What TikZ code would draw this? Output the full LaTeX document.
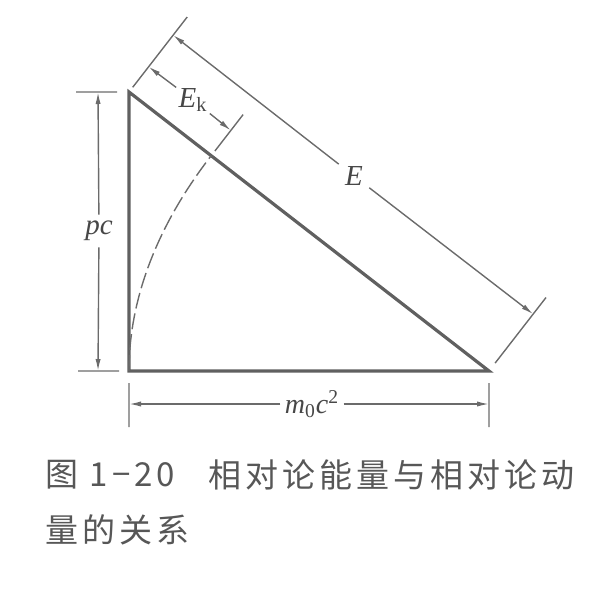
\documentclass[tikz,border=0pt]{standalone}
\usepackage{fontspec}
\usetikzlibrary{arrows.meta}
\setmainfont{Liberation Serif}
\newfontfamily\cjkfont{Noto Sans CJK SC}
\definecolor{figgray}{gray}{0.42}
\definecolor{labgray}{gray}{0.28}
\definecolor{capgray}{gray}{0.34}

\begin{document}
\begin{tikzpicture}[x=0.5pt,y=-0.5pt,>={Latex[length=6pt,width=2.6pt]},
                    thin line/.style={draw=figgray,line width=0.7pt},
                    dim line/.style={thin line,->},
                    side/.style={draw=figgray!90!black,line width=1.6pt,line join=miter},
                    dim label/.style={inner sep=3pt,text=labgray,font=\fontsize{14.5}{17}\selectfont},
                    caption/.style={anchor=west,inner sep=0pt,text=capgray,
                      font=\fontsize{16.5}{20}\cjkfont\addfontfeature{LetterSpace=12}}]
  \useasboundingbox (0,0) rectangle (615,601);
  % triangle
  \coordinate (A) at (129,92);
  \coordinate (B) at (129,371);
  \coordinate (C) at (489,371);
  \coordinate (P) at (211.2,155.7);
  \draw[side] (A) -- (B) -- (C) -- cycle;
  \draw[thin line,dash pattern=on 8pt off 2.5pt] (B) .. controls (129,292) and (162.8,218.1) .. (P);

  % extension lines
  \coordinate (Ea1) at (132.7,87.3);  \coordinate (Ea2) at (187.2,17);
  \coordinate (Eb1) at (495.1,363.1); \coordinate (Eb2) at (546,297.5);
  \coordinate (Ek1) at (214.9,151);   \coordinate (Ek2) at (243.1,114.6);
  \coordinate (pa1) at (76,92);  \coordinate (pa2) at (117,92);
  \coordinate (pb1) at (78,371); \coordinate (pb2) at (119,371);
  \coordinate (ma1) at (129,383); \coordinate (ma2) at (129,427);
  \coordinate (mb1) at (489,383); \coordinate (mb2) at (489,427);
  \draw[thin line] (Ea1) -- (Ea2) (Eb1) -- (Eb2) (Ek1) -- (Ek2)
                   (pa1) -- (pa2) (pb1) -- (pb2) (ma1) -- (ma2) (mb1) -- (mb2);

  % dimensions
  \coordinate (Etop) at (173.1,35.1);  \coordinate (Ebot) at (533.1,314.1);
  \coordinate (Ektop) at (148.6,66.7); \coordinate (Ekbot) at (230.8,130.4);
  \coordinate (pctop) at (98,92);      \coordinate (pcbot) at (98,371);
  \coordinate (mleft) at (129,404);    \coordinate (mright) at (489,404);
  \node[dim label] (E) at (354,176) {\textit{E}};
  \node[dim label,inner sep=1pt] (Ek) at (193,100) {\textit{E}\textsubscript{k}};
  \node[dim label] (pc) at (99,231) {\textit{pc}};
  \node[dim label,inner sep=2pt,font=\fontsize{14}{16}\selectfont] (mc) at (312,404) {\textit{m}\textsubscript{0}\textit{c}\textsuperscript{2}};
  \draw[dim line] (E) -- (Etop);
  \draw[dim line] (E) -- (Ebot);
  \draw[dim line] (Ek) -- (Ektop);
  \draw[dim line] (Ek) -- (Ekbot);
  \draw[dim line] (pc) -- (pctop);
  \draw[dim line] (pc) -- (pcbot);
  \draw[dim line] (mc) -- (mleft);
  \draw[dim line] (mc) -- (mright);

  % caption
  \node[caption] (fig) at (45,475) {图 1−20};
  \node[caption] (title) at (208,475) {相对论能量与相对论动};
  \node[caption] (title2) at (45,530) {量的关系};
\end{tikzpicture}
\end{document}
